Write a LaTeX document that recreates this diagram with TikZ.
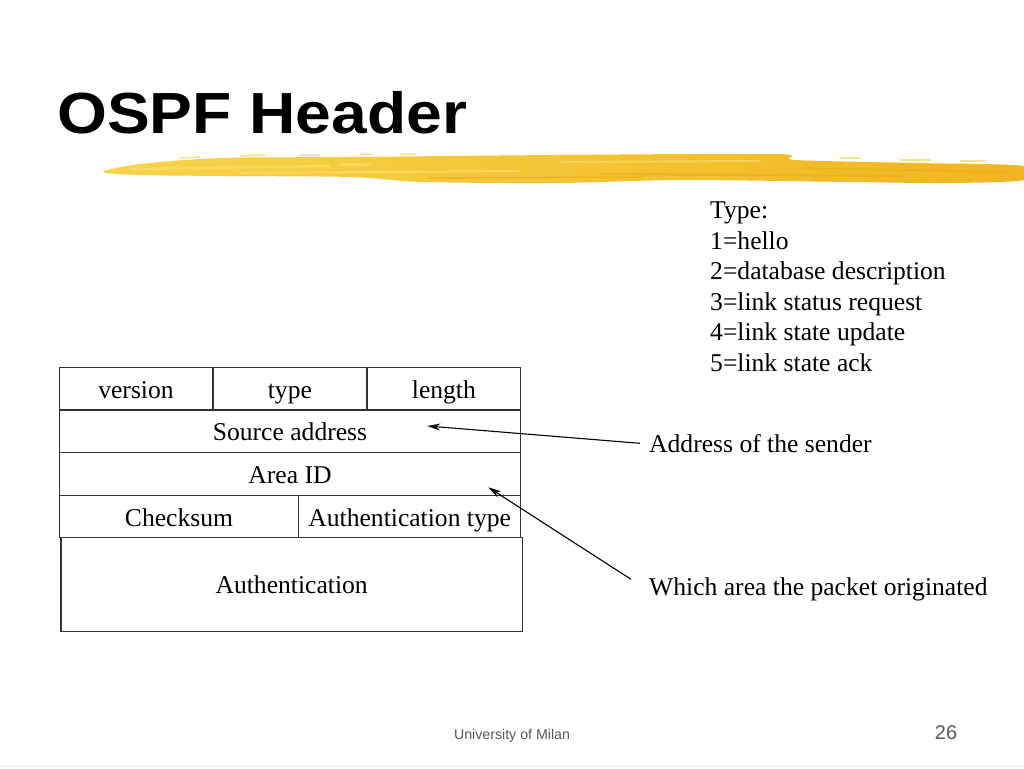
\documentclass[tikz,border=0pt]{standalone}
\usepackage{fontspec}
\setmainfont{Liberation Serif}
\newfontfamily\arialfont{Liberation Sans}
\usetikzlibrary{arrows.meta}
\definecolor{brushL}{HTML}{F8D449}
\definecolor{brushM}{HTML}{F5C733}
\definecolor{brushR}{HTML}{F0B51F}
\definecolor{brushC}{HTML}{FBE27A}
\definecolor{brushD}{HTML}{E9A915}
\definecolor{footgray}{HTML}{595959}
\begin{document}
\begin{tikzpicture}[x=1pt,y=-1pt,
  cell/.style={draw=black!80, line width=1.1pt, rectangle, inner sep=0pt,
    text height=18.6pt, text depth=0pt, font=\fontsize{25.6}{30.6}\selectfont},
  lbl/.style={anchor=base west, inner sep=0pt, font=\fontsize{25.6}{30.6}\selectfont},
  ptr/.style={-{Stealth[length=13pt,width=7pt]}, line width=1.1pt},
  streak/.style={line cap=round, opacity=0.55}]
\useasboundingbox (0,0) rectangle (1024,768);
\fill[white] (0,0) rectangle (1024,768);
% title
\node[anchor=base west, inner sep=0pt, font=\arialfont\bfseries\fontsize{58}{60}\selectfont] (title) at (57,133) {\scalebox{1.106}[1]{OSPF Header}};
% brush stroke
\shade[left color=brushL, middle color=brushM, right color=brushR]
  plot[smooth cycle, tension=0.5] coordinates {(103,172) (140,164) (223,158) (350,157) (557,155) (777,154) (795,160) (917,163) (1024,166) (1024,180) (950,183) (850,182) (683,180) (557,183) (423,182) (350,177) (223,176) (140,175)};
\draw[streak, brushC, line width=2.5pt] (130,169) -- (330,166);
\draw[streak, brushC, line width=2pt] (240,173) -- (520,171);
\draw[streak, brushC, line width=3pt] (340,164) -- (370,164);
\draw[streak, brushC, line width=2pt] (560,162) -- (760,161);
\draw[streak, brushD, line width=2pt] (600,174) -- (900,176);
\draw[streak, brushD, line width=1.5pt] (800,168) -- (1010,172);
\draw[streak, brushD, line width=1.5pt] (430,178) -- (640,177);
\draw[streak, brushM, line width=1.5pt] (180,158) -- (200,157) (240,156) -- (265,155) (300,155) -- (320,155) (360,154) -- (372,154) (400,154) -- (415,154);
\draw[streak, brushM, line width=1.5pt] (840,158) -- (860,158) (900,160) -- (930,160) (960,161) -- (985,161);
% table
\node[cell, minimum width=153.4pt, minimum height=42.6pt] (ver) at (136,389) {version};
\node[cell, minimum width=152.3pt, minimum height=42.6pt] (typ) at (289.9,389) {type};
\node[cell, minimum width=153.7pt, minimum height=42.6pt] (len) at (443.9,389) {length};
\node[cell, minimum width=461.4pt, minimum height=43pt] (src) at (290,431.3) {Source address};
\node[cell, minimum width=461.4pt, minimum height=42.7pt] (area) at (290,474.2) {Area ID};
\node[cell, minimum width=239.4pt, minimum height=42.3pt] (chk) at (179,516.7) {Checksum};
\node[cell, minimum width=222pt, minimum height=42.3pt] (aut) at (409.7,516.7) {Authentication type};
\node[cell, minimum width=461.3pt, minimum height=93.4pt] (auth) at (291.65,584.5) {Authentication};
% type list
\foreach \t [count=\i] in {Type:, 1=hello, 2=database description, 3=link status request, 4=link state update, 5=link state ack}
  \node[lbl] (t\i) at (710,{218.5+(\i-1)*30.5}) {\t};
% annotations
\node[lbl] (sender) at (649,452) {Address of the sender};
\node[lbl] (orig) at (649,595) {Which area the packet originated};
\coordinate (s1) at (640,443.3);
\coordinate (e1) at (427.3,426);
\coordinate (s2) at (631,579.3);
\coordinate (e2) at (488.3,487.3);
\draw[ptr] (s1) -- (e1);
\draw[ptr] (s2) -- (e2);
% footer
\node[inner sep=0pt, text=footgray, font=\arialfont\fontsize{14.2}{16}\selectfont] (foot) at (512,736) {University of Milan};
\node[inner sep=0pt, text=footgray, font=\arialfont\fontsize{19.9}{22}\selectfont] (page) at (946,733) {26};
\draw[black!8, line width=1.5pt] (0,766.5) -- (1024,766.5);
\end{tikzpicture}
\end{document}
